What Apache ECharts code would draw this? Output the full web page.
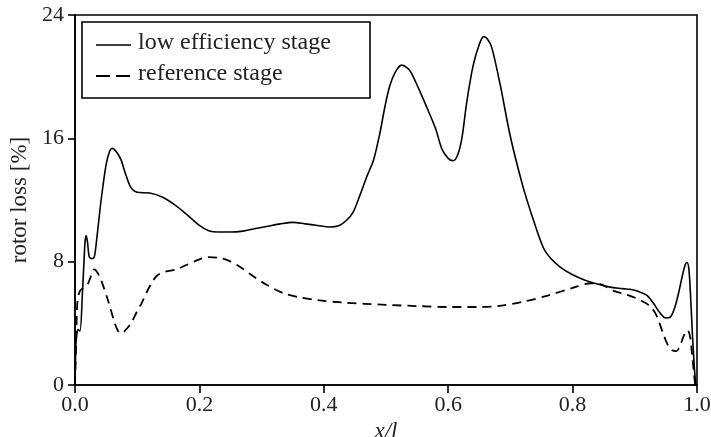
<!DOCTYPE html>
<html>
<head>
<meta charset="utf-8">
<script src="https://cdn.jsdelivr.net/npm/echarts@6/dist/echarts.min.js"></script>
<style>
  html, body { margin: 0; padding: 0; background: #fff; }
  #chart { width: 711px; height: 437px; }
</style>
</head>
<body>
<div id="chart"></div>
<script>
// Rotor loss distribution along the blade chord x/l
const xTicks = [0.0, 0.2, 0.4, 0.6, 0.8, 1.0];
const yTicks = [0, 8, 16, 24];

const lowEffX = [0, 0.002, 0.005, 0.008, 0.012, 0.016, 0.018, 0.020, 0.023, 0.027, 0.031, 0.035, 0.042, 0.05, 0.056, 0.06, 0.067, 0.074, 0.082, 0.09, 0.1, 0.12, 0.14, 0.16, 0.18, 0.2, 0.215, 0.23, 0.25, 0.27, 0.29, 0.31, 0.33, 0.35, 0.37, 0.39, 0.41, 0.425, 0.437, 0.447, 0.458, 0.47, 0.48, 0.49, 0.498, 0.506, 0.515, 0.525, 0.533, 0.54, 0.555, 0.571, 0.58, 0.59, 0.6, 0.608, 0.615, 0.622, 0.63, 0.64, 0.65, 0.657, 0.663, 0.67, 0.684, 0.7, 0.72, 0.737, 0.753, 0.765, 0.78, 0.8, 0.82, 0.84, 0.86, 0.88, 0.9, 0.91, 0.92, 0.93, 0.94, 0.95, 0.957, 0.964, 0.97, 0.976, 0.981, 0.984, 0.987, 0.99, 0.993, 0.996, 0.998];
const lowEffY = [0, 3.0, 3.6, 3.5, 6.0, 9.2, 9.7, 9.3, 8.3, 8.2, 8.3, 9.5, 12.0, 14.3, 15.2, 15.35, 15.1, 14.6, 13.6, 12.8, 12.5, 12.45, 12.2, 11.7, 11.05, 10.35, 10.0, 9.92, 9.92, 9.98, 10.15, 10.3, 10.45, 10.55, 10.45, 10.35, 10.25, 10.35, 10.7, 11.2, 12.3, 13.6, 14.6, 16.3, 18.0, 19.4, 20.3, 20.75, 20.6, 20.3, 19.0, 17.5, 16.6, 15.3, 14.7, 14.55, 14.9, 16.0, 18.4, 20.7, 22.1, 22.6, 22.45, 21.9, 19.4, 16.1, 12.9, 10.7, 8.9, 8.2, 7.65, 7.15, 6.8, 6.55, 6.35, 6.25, 6.15, 6.0, 5.8, 5.3, 4.7, 4.35, 4.4, 5.0, 5.9, 7.0, 7.8, 7.95, 7.5, 5.5, 3.0, 1.0, 0];

const refX = [0, 0.002, 0.004, 0.008, 0.013, 0.02, 0.026, 0.031, 0.036, 0.042, 0.053, 0.064, 0.07, 0.075, 0.082, 0.09, 0.1, 0.107, 0.115, 0.123, 0.132, 0.145, 0.163, 0.18, 0.2, 0.215, 0.23, 0.245, 0.265, 0.286, 0.308, 0.335, 0.361, 0.39, 0.43, 0.5, 0.55, 0.6, 0.65, 0.68, 0.72, 0.76, 0.8, 0.83, 0.845, 0.866, 0.888, 0.909, 0.925, 0.935, 0.945, 0.953, 0.96, 0.967, 0.973, 0.98, 0.985, 0.989, 0.992, 0.995, 0.997];
const refY = [0, 3.0, 5.5, 6.1, 6.3, 6.5, 7.1, 7.5, 7.3, 6.8, 5.5, 4.0, 3.45, 3.35, 3.6, 4.0, 4.8, 5.3, 6.0, 6.6, 7.1, 7.35, 7.5, 7.8, 8.15, 8.3, 8.25, 8.1, 7.67, 7.07, 6.5, 5.95, 5.69, 5.5, 5.35, 5.2, 5.12, 5.06, 5.06, 5.12, 5.4, 5.8, 6.3, 6.6, 6.55, 6.1, 5.85, 5.5, 5.1, 4.5, 3.4, 2.6, 2.25, 2.2, 2.6, 3.3, 3.55, 3.1, 2.0, 0.8, 0];

const seriesNames = ['low efficiency stage', 'reference stage'];

const pairs = (xs, ys) => xs.map((x, i) => [x, ys[i]]);
const serif = '"Liberation Serif", "DejaVu Serif", serif';
const ink = '#000';
const textInk = '#222';
const dashPattern = [9, 6];

// Boxed key in the upper-left corner of the plot
const keyText = (y, text) => ({
  type: 'text', left: 138, top: y,
  style: { text, fill: textInk, font: '24px ' + serif }
});
const keyGraphics = [
  { type: 'rect', shape: { x: 82, y: 22, width: 288, height: 76 },
    style: { fill: '#fff', stroke: ink, lineWidth: 1.6 } },
  { type: 'line', shape: { x1: 96, y1: 45, x2: 131, y2: 45 },
    style: { stroke: ink, lineWidth: 1.6 } },
  { type: 'line', shape: { x1: 96, y1: 76, x2: 131, y2: 76 },
    style: { stroke: ink, lineWidth: 1.8, lineDash: [14, 6] } },
  keyText(31, seriesNames[0]),
  keyText(62, seriesNames[1])
];

const chart = echarts.init(document.getElementById('chart'), null, { renderer: 'canvas' });
chart.setOption({
  animation: false,
  backgroundColor: '#fff',
  grid: {
    left: 75, right: 14, top: 15, bottom: 52,
    outerBoundsMode: 'none', containLabel: false,
    show: true, borderColor: ink, borderWidth: 1.6, backgroundColor: 'transparent'
  },
  graphic: keyGraphics,
  xAxis: {
    type: 'value',
    min: xTicks[0], max: xTicks[xTicks.length - 1], interval: 0.2,
    name: 'x/l', nameLocation: 'middle', nameGap: 27,
    nameTextStyle: { fontFamily: serif, fontSize: 23, fontStyle: 'italic', color: textInk },
    axisLine: { lineStyle: { color: ink, width: 1.6 } },
    axisTick: { length: 8, inside: false, lineStyle: { color: ink, width: 1.6 } },
    axisLabel: { fontFamily: serif, fontSize: 22, color: textInk, margin: 9,
      formatter: v => v.toFixed(1) },
    splitLine: { show: false }
  },
  yAxis: {
    type: 'value',
    min: yTicks[0], max: yTicks[yTicks.length - 1], interval: 8,
    name: 'rotor loss [%]', nameLocation: 'middle', nameGap: 39,
    nameTextStyle: { fontFamily: serif, fontSize: 23, color: textInk },
    axisLine: { lineStyle: { color: ink, width: 1.6 } },
    axisTick: { length: 7, inside: false, lineStyle: { color: ink, width: 1.6 } },
    axisLabel: { fontFamily: serif, fontSize: 22, color: textInk, margin: 11 },
    splitLine: { show: false }
  },
  series: [
    {
      name: seriesNames[0], type: 'line', data: pairs(lowEffX, lowEffY),
      smooth: 0.3, showSymbol: false, symbol: 'none',
      lineStyle: { color: ink, width: 1.6, type: 'solid' }
    },
    {
      name: seriesNames[1], type: 'line', data: pairs(refX, refY),
      smooth: 0.3, showSymbol: false, symbol: 'none',
      lineStyle: { color: ink, width: 1.8, type: dashPattern }
    }
  ]
});
</script>
</body>
</html>
